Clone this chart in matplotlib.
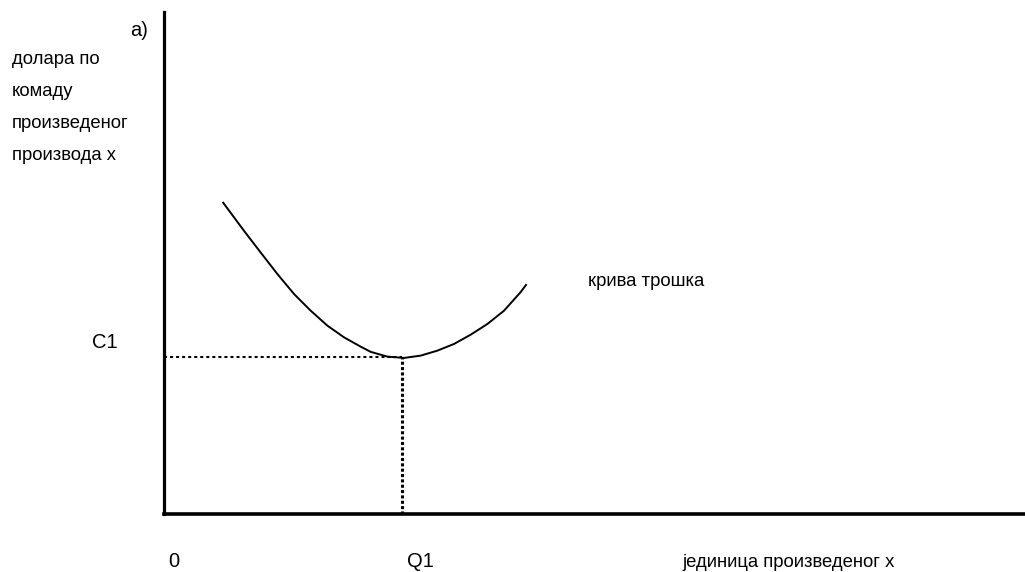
import matplotlib
matplotlib.use("Agg")
import matplotlib.pyplot as plt

# Cost curve (x: units produced, y: dollars per unit)
curve_x = [6.81, 9.32, 11.25, 13.19, 15.12, 17.05, 18.99, 20.92, 22.85, 24.01,
           25.95, 27.88, 29.81, 31.75, 33.68, 35.61, 37.55, 39.48, 41.42, 42.11]
curve_y = [62.16, 56.35, 52.04, 47.76, 43.79, 40.48, 37.50, 35.18, 33.33, 32.30,
           31.35, 31.09, 31.55, 32.54, 33.87, 35.71, 37.84, 40.48, 44.20, 45.77]
Q1 = 27.7
C1 = 31.3

y_label_lines = ["долара по", "комаду", "произведеног", "производа x"]
x_label = "јединица произведеног x"
curve_label = "крива трошка"

plt.rcParams['font.family'] = ['Liberation Sans', 'DejaVu Sans']

W, H = 1025, 572
fig = plt.figure(figsize=(W / 100, H / 100), dpi=100)
ax = fig.add_axes([164 / W, (H - 514) / H, 1 - 164 / W, (514 - 12) / H])
ax.set_xlim(0, 100)
ax.set_ylim(0, 100)
for s in ["top", "right"]:
    ax.spines[s].set_visible(False)
ax.spines["left"].set_linewidth(2.3)
ax.spines["bottom"].set_linewidth(2.6)
ax.set_xticks([])
ax.set_yticks([])

ax.plot(curve_x, curve_y, color="black", lw=1.4, solid_capstyle="butt",
        solid_joinstyle="round")
ax.plot([0, Q1], [C1, C1], color="black", lw=1.5, linestyle=(0, (1.45, 1.45)),
        dash_capstyle="butt")
ax.plot([Q1, Q1], [0, C1], color="black", lw=2.2, linestyle=(0, (1.0, 0.75)),
        dash_capstyle="butt")


def ftext(px, py, s, size, ha="left"):
    fig.text(px / W, 1 - py / H, s, fontsize=size, ha=ha, va="baseline")


small = 13.3
big = 14.5
for i, line in enumerate(y_label_lines):
    ftext(12, 64 + 32 * i, line, small)
ftext(148, 36, "a)", big, ha="right")
ftext(92, 348, "C1", big)
ftext(168, 567, "0", big)
ftext(407, 567, "Q1", big)
ftext(682, 567, x_label, small)
ftext(588, 286, curve_label, small)

fig.savefig("out.png", dpi=100)
